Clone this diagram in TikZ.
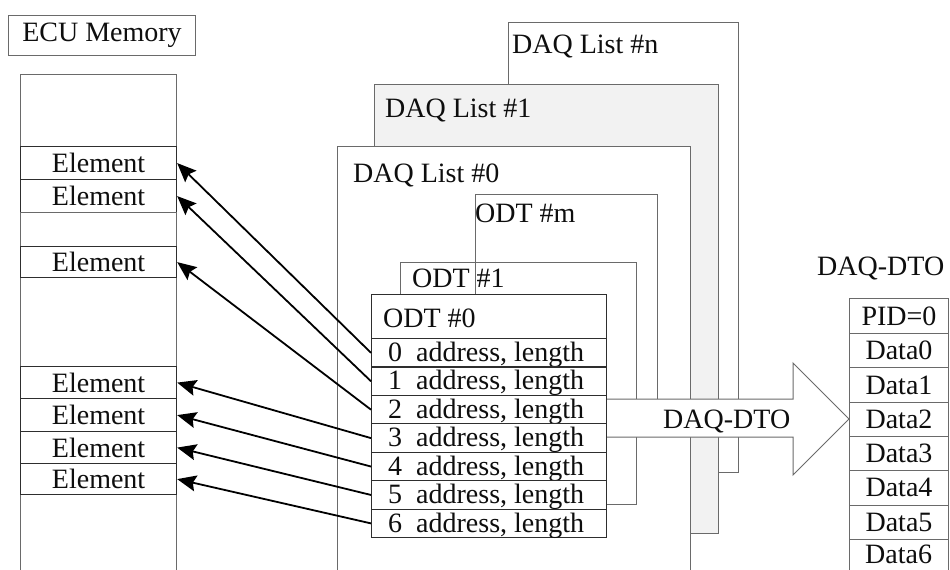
\documentclass[tikz,border=0pt]{standalone}
\usepackage{fontspec}
\setmainfont{Liberation Serif}
\usetikzlibrary{arrows.meta,calc}
\definecolor{ink}{HTML}{0E0E0E}
\definecolor{framegray}{HTML}{6A6A6A}
\definecolor{rowline}{HTML}{2E2E2E}
\definecolor{listfill}{HTML}{F2F2F2}

\begin{document}
\begin{tikzpicture}[x=1pt,y=-1pt,
  every node/.style={font=\fontsize{28}{30}\selectfont, text=ink, inner sep=0pt},
  frame/.style={draw=framegray, line width=1pt, anchor=north west},
  boxsize/.style 2 args={minimum width=#1, minimum height=#2},
  cell/.style={draw=rowline, line width=1.2pt, anchor=north west},
  lbl/.style={anchor=base west},
  ptr/.style={-{Stealth[length=19pt,width=16pt,inset=3pt]}, line width=1.8pt, black},
  bigarrow/.style={draw=framegray, line width=1pt, fill=white}]

% canvas
\useasboundingbox (0,0) rectangle (950,570);
\fill[white] (0,0) rectangle (950,570);
\clip (0,0) rectangle (950,570);

% ---------- ECU memory ----------
\node[frame, boxsize={187pt}{40pt}] (ecu) at (8,15) {ECU Memory};
\node[frame, boxsize={156pt}{530pt}] (mem) at (20,74) {};
\node[cell, boxsize={156pt}{33pt}] (e1) at (20,146) {Element};
\node[cell, boxsize={156pt}{33pt}] (e2) at (20,179) {Element};
\node[frame, boxsize={156pt}{34pt}] (gap1) at (20,212) {};
\node[cell, boxsize={156pt}{31pt}] (e3) at (20,246) {Element};
\node[cell, boxsize={156pt}{32pt}] (e4) at (20,366) {Element};
\node[cell, boxsize={156pt}{33pt}] (e5) at (20,398) {Element};
\node[cell, boxsize={156pt}{32pt}] (e6) at (20,431) {Element};
\node[cell, boxsize={156pt}{31pt}] (e7) at (20,463) {Element};

% ---------- DAQ lists ----------
\node[frame, fill=white, boxsize={230pt}{450pt}] (daqn) at (508,22) {};
\node[lbl] (daqnlbl) at (512,53) {DAQ List \#n};
\node[frame, fill=listfill, boxsize={344pt}{449pt}] (daq1) at (374,84) {};
\node[lbl] (daq1lbl) at (385,117) {DAQ List \#1};
\node[frame, fill=white, boxsize={353pt}{480pt}] (daq0) at (337,146) {};
\node[lbl] (daq0lbl) at (353,182) {DAQ List \#0};

% ---------- ODTs ----------
\node[frame, boxsize={182pt}{242pt}] (odtm) at (475,194) {};
\node[lbl] (odtmlbl) at (475,222) {ODT \#m};
\node[frame, boxsize={236pt}{242pt}] (odt1) at (400,262) {};
\node[lbl] (odt1lbl) at (412,287) {ODT \#1};

% ---------- transfer arrow ----------
\path (849,419) coordinate (tip);
\draw[bigarrow] (604,399) -- (793,399) -- (793,363) -- (tip)
  -- (793,475) -- (793,437) -- (604,437) -- cycle;
\node[lbl] (xferlbl) at (663,428) {DAQ-DTO};

% ---------- ODT #0 with its entries ----------
\node[cell, fill=white, boxsize={235pt}{44pt}] (odt0) at (371,294) {};
\node[lbl] (odt0lbl) at (383,327) {ODT \#0};
\foreach \i in {0,...,6}{
  \node[cell, fill=white, boxsize={235pt}{28.43pt}] (r\i) at (371,{338+28.43*\i}) {};
  \node[lbl] (t\i) at (388,{361.5+28.43*\i}) {\i\ \ address, length};
}

% ---------- DTO packet ----------
\node[lbl] (dtolbl) at (817,275) {DAQ-DTO};
\node[frame, boxsize={99pt}{35pt}] (pid) at (849,298) {PID=0};
\foreach \i in {0,...,5}{
  \node[frame, boxsize={99pt}{34.3pt}] (d\i) at (849,{333+34.3*\i}) {Data\i};
}
% last slot runs past the lower edge
\node[frame, boxsize={99pt}{40pt}] (d6) at (849,538.8) {};
\node[lbl] (d6lbl) at (865,563) {Data6};

% ---------- entry pointers ----------
\draw[ptr] (r0.west) -- (e1.east);
\draw[ptr] (r1.west) -- (e2.east);
\draw[ptr] (r2.west) -- (e3.east);
\draw[ptr] (r3.west) -- (e4.east);
\draw[ptr] (r4.west) -- (e5.east);
\draw[ptr] (r5.west) -- (e6.east);
\draw[ptr] (r6.west) -- (e7.east);
\end{tikzpicture}
\end{document}
